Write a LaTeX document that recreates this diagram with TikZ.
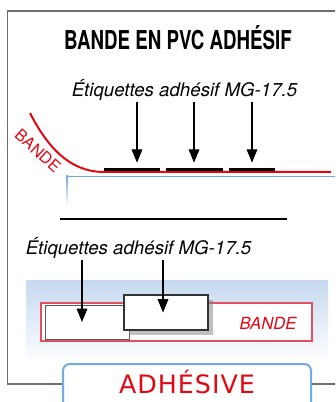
\documentclass[tikz,border=0pt]{standalone}
\usepackage{fontspec}
\usepackage{tikz}
\usetikzlibrary{arrows.meta,shadows,positioning}
\setmainfont{TeX Gyre Heros}
\newfontfamily\titlefont[FakeStretch=0.72]{TeX Gyre Heros}
\newfontfamily\handfont[LetterSpace=4]{DejaVu Sans}
\definecolor{bandred}{HTML}{E30613}
\definecolor{rimred}{HTML}{E0505E}
\definecolor{framegray}{HTML}{6E6E6E}
\definecolor{edgeblue}{HTML}{70ACE0}
\definecolor{skyblue}{HTML}{C6D9F0}

\begin{document}
\begin{tikzpicture}[x=0.75pt, y=-0.75pt,
  arr/.style={-{Triangle[length=10pt, width=8pt]}, line width=0.8pt},
  strip/.style={fill=black, inner sep=0pt, minimum height=1.9pt},
  lbl/.style={font=\itshape\fontsize{14}{16}\selectfont, anchor=base},
  tagbox/.style={draw, fill=white, inner sep=0pt, minimum width=63pt}]
  \useasboundingbox (0,0) rectangle (335,402);
  \clip (0,0) rectangle (335,402);

  % outer frame
  \draw[framegray, line width=0.8pt] (345,11) -- (7.5,11) -- (7.5,384) -- (345,384);
  \node[font=\titlefont\bfseries\fontsize{19.5}{21}\selectfont] (title) at (178,38) {BANDE EN PVC ADH\'ESIF};

  % side view: tape on the support
  \node[lbl] (lbl1) at (184.5,96.7) {\'Etiquettes adh\'esif MG-17.5};
  \draw[bandred, line width=1.5pt] (30,113) .. controls (48,148) and (70,171.5) .. (103,172) -- (331,172);
  \node[bandred, rotate=-42, inner sep=0pt, font=\fontsize{12}{12}\selectfont] (bandlbl) at (38,151) {BANDE};
  \node[strip, minimum width=42pt] (s1) at (132,169.5) {};
  \node[strip, minimum width=42.75pt] (s2) at (194.5,169.5) {};
  \node[strip, minimum width=34.5pt] (s3) at (252,169.5) {};
  \coordinate (t1) at (137,102);
  \coordinate (t2) at (194,102);
  \coordinate (t3) at (252,102);
  \foreach \i in {1,2,3}
    \draw[arr, shorten >=4pt] (t\i) -- (t\i |- s\i.north);
  \draw[edgeblue, line width=1.1pt] (67,176.5) -- (340,176.5);
  \shade[top color=edgeblue, bottom color=white] (66.3,176) rectangle (68,206);
  \draw[line width=0.8pt] (60,219) -- (287,219);

  % top view: two labels on the tape
  \node[lbl] (lbl2) at (138.5,254) {\'Etiquettes adh\'esif MG-17.5};
  \shade[top color=skyblue, bottom color=white] (26,280) rectangle (328,363);
  \node[draw=rimred, fill=white, line width=0.8pt, inner sep=0pt,
        minimum width=203.25pt, minimum height=28.5pt] (band) at (176.5,322) {};
  \node[bandred, font=\itshape\fontsize{12.5}{14}\selectfont] (bandtxt) at (268,323) {BANDE};
  \node[tagbox, draw=black!65, line width=0.7pt, minimum height=25.5pt] (b1) at (87,322) {};
  \node[tagbox, draw=black!80, line width=0.8pt, minimum height=26.25pt,
        drop shadow={shadow xshift=4pt, shadow yshift=-4pt, opacity=0.5}] (b2) at (166,312.5) {};
  \coordinate (u1) at (82,260);
  \coordinate (u2) at (163,260);
  \draw[arr] (u1) -- (u1 |- b1.center);
  \draw[arr] (u2) -- (u2 |- b2.center);

  % caption tab
  \node[draw=edgeblue, fill=white, line width=1.5pt, rounded corners=5pt, inner sep=0pt,
        minimum width=186pt, minimum height=36pt] (tab) at (187,388) {};
  \node[bandred, font=\handfont\fontsize{19}{20}\selectfont, anchor=base] (tabtxt) at (187,393.5) {ADH\'ESIVE};
\end{tikzpicture}
\end{document}
